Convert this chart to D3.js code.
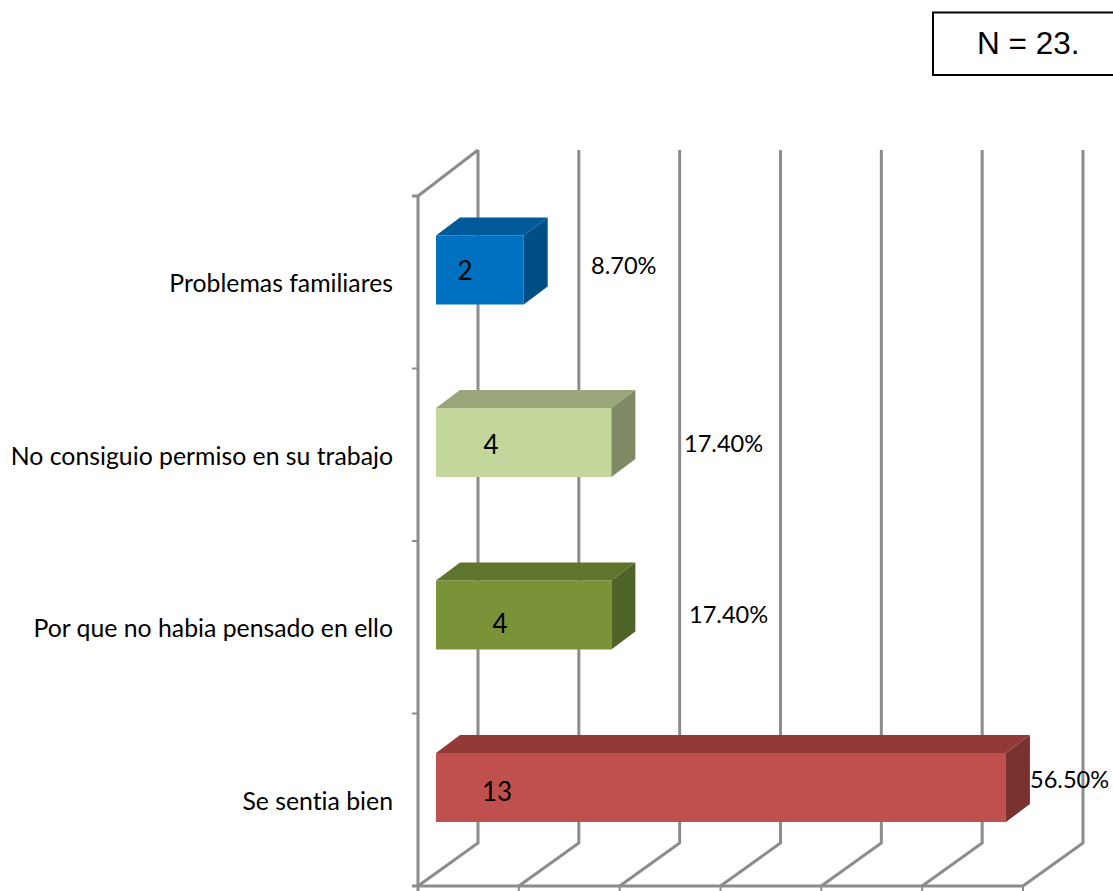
<!DOCTYPE html>
<html><head><meta charset="utf-8">
<script src="https://cdn.jsdelivr.net/npm/d3@7"></script>
<style>html,body{margin:0;padding:0;background:#fff;overflow:hidden}svg{display:block}text{font-variant-ligatures:none}</style>
</head><body>
<svg id="c" width="1113" height="891"></svg>
<script>
const categories = ["Problemas familiares","No consiguio permiso en su trabajo","Por que no habia pensado en ello","Se sentia bien"];
const counts = [2,4,4,13];
const percents = ["8.70%","17.40%","17.40%","56.50%"];
const gridTicks = [0,2.3,4.6,6.9,9.2,11.5,13.8];

(function draw(){
const frontColors = ["#0070C0","#C3D69B","#7A9338","#C0504D"];
const topColors = ["#005A9A","#98A67A","#5F752D","#933A38"];
const sideColors = ["#004E85","#7F8A65","#4F6228","#7A3230"];
const countLabelPos = [[465,280],[491,454],[500,633],[497,801]];
const pctLabelPos = [[591,274],[684,452],[689,623],[1030,788]];

const svg = d3.select("#c");
const left=418, right=1023, plotTop=196, bottom=886;
const dx=60, dy=-43;
const barDx=24, barDy=-18, barIndent=18;
const x = d3.scaleLinear().domain([0,13.8]).range([left,right]);
const yOuter = d3.scaleBand().domain(categories).range([plotTop,bottom]);
const y = d3.scaleBand().domain(categories).range([plotTop-12.25,bottom-12.25]).paddingInner(0.6).paddingOuter(0.3);
const grid="#8C8C8C";
const font="Lato, 'Open Sans', sans-serif";
const line=(pts,w=3,col=grid)=>svg.append("path").attr("d",d3.line()(pts)).attr("fill","none").attr("stroke",col).attr("stroke-width",w);

gridTicks.forEach(t=>{
  const fx=x(t), bx=fx+dx;
  line([[bx,150],[bx,bottom+dy],[fx,bottom]]);
  if(t>0) line([[fx,bottom],[fx,891]],2);
});
line([[left-6,plotTop],[left,plotTop],[left,891]]);
line([[left,plotTop],[left+dx,150]]);
line([[left-6,bottom],[right,bottom]],3);
categories.forEach((c,i)=>{
  if(i>0){ const ty=yOuter(c); line([[left-6,ty],[left,ty]],2); }
});

categories.forEach((c,i)=>{
  const bx0=left+barIndent, bx1=bx0+(x(counts[i])-x(0));
  const t=y(c), h=y.bandwidth();
  const g=svg.append("g");
  g.append("rect").attr("x",bx0).attr("y",t).attr("width",bx1-bx0).attr("height",h).attr("fill",frontColors[i]);
  g.append("path").attr("d",d3.line()([[bx0,t],[bx0+barDx,t+barDy],[bx1+barDx,t+barDy],[bx1,t]])+"Z").attr("fill",topColors[i]);
  g.append("path").attr("d",d3.line()([[bx1,t],[bx1+barDx,t+barDy],[bx1+barDx,t+h+barDy],[bx1,t+h]])+"Z").attr("fill",sideColors[i]);
  svg.append("text").attr("x",393).attr("y",t+56.5).attr("text-anchor","end")
    .attr("font-family",font).attr("font-size",24.8).attr("fill","#000").text(c);
  svg.append("text").attr("x",countLabelPos[i][0]).attr("y",countLabelPos[i][1]).attr("text-anchor","middle")
    .attr("font-family",font).attr("font-size",26).attr("fill","#000").text(counts[i]);
  svg.append("text").attr("x",pctLabelPos[i][0]).attr("y",pctLabelPos[i][1])
    .attr("font-family",font).attr("font-size",23.6).attr("fill","#000").text(percents[i]);
});

svg.append("rect").attr("x",933).attr("y",12.5).attr("width",190).attr("height",62.5).attr("fill","#fff").attr("stroke","#000").attr("stroke-width",2);
svg.append("text").attr("x",977).attr("y",54).attr("font-family","'Liberation Sans', Arial, sans-serif").attr("font-size",31.5).attr("fill","#000").text("N = 23.");
})();
</script>
</body></html>
